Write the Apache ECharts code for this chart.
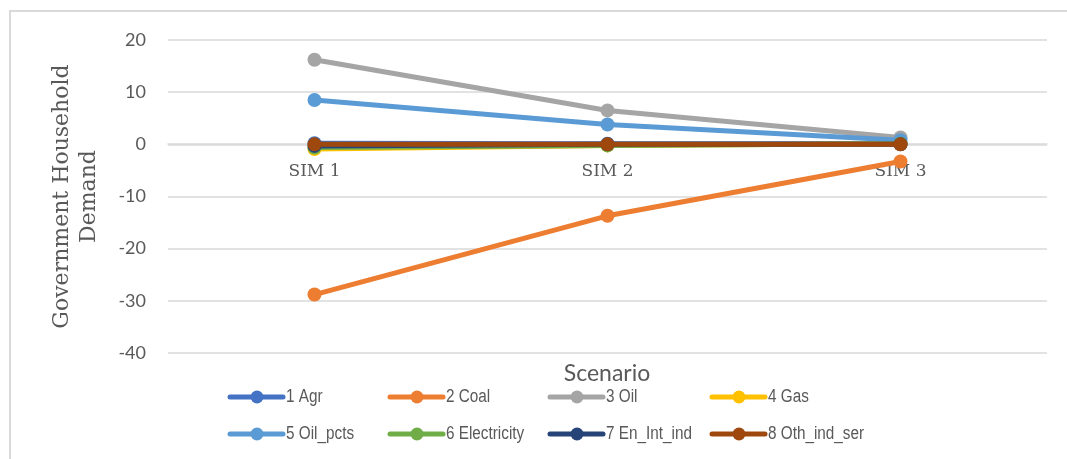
<!DOCTYPE html>
<html>
<head>
<meta charset="utf-8">
<script src="https://cdn.jsdelivr.net/npm/echarts@6/dist/echarts.min.js"></script>
<style>
  html, body { margin: 0; padding: 0; background: #fff; }
  #chart { width: 1067px; height: 459px; }
</style>
</head>
<body>
<div id="chart"></div>
<script>
// Scenarios on the x axis
const scenarios = ['SIM 1', 'SIM 2', 'SIM 3'];

// Change in government household demand per sector
const agr         = [0.2, 0.1, 0.1];
const coal        = [-28.8, -13.7, -3.3];
const oil         = [16.2, 6.5, 1.3];
const gas         = [-0.9, -0.2, 0.1];
const oilPcts     = [8.5, 3.8, 0.8];
const electricity = [-0.6, -0.2, 0.1];
const enIntInd    = [-0.3, 0.0, 0.0];
const othIndSer   = [0.0, 0.0, 0.0];

const sectorNames = ['1 Agr', '2 Coal', '3 Oil', '4 Gas', '5 Oil_pcts', '6 Electricity', '7 En_Int_ind', '8 Oth_ind_ser'];
const sectorData  = [agr, coal, oil, gas, oilPcts, electricity, enIntInd, othIndSer];
const sectorColors = ['#4472C4', '#ED7D31', '#A5A5A5', '#FFC000', '#5B9BD5', '#70AD47', '#264478', '#9E480E'];

// y-axis ticks
const yMin = -40, yMax = 20, yStep = 10;

const chart = echarts.init(document.getElementById('chart'), null, { renderer: 'canvas' });

const series = sectorNames.map((name, i) => ({
  name: name,
  type: 'line',
  data: sectorData[i],
  symbol: 'circle',
  symbolSize: 14,
  lineStyle: { width: 5, color: sectorColors[i] },
  itemStyle: { color: sectorColors[i] },
  z: 2 + i
}));

// legend: two rows of four, each a thick line with a dot and the sector name
const legendCols = [228, 388, 548, 710];
const legendRows = [397, 434];
const legendGraphics = [];
sectorNames.forEach((name, i) => {
  const x = legendCols[i % 4];
  const y = legendRows[Math.floor(i / 4)];
  legendGraphics.push({
    type: 'group',
    x: x, y: y,
    children: [
      { type: 'line', shape: { x1: 2, y1: 0, x2: 55, y2: 0 }, style: { stroke: sectorColors[i], lineWidth: 5, lineCap: 'round' } },
      { type: 'circle', shape: { cx: 29, cy: 0, r: 6.5 }, style: { fill: sectorColors[i] } },
      { type: 'text', x: 58, y: 0, scaleX: 0.85, style: {
          text: name,
          fill: '#595959',
          font: '18px "Liberation Sans", Arial, sans-serif',
          verticalAlign: 'middle',
          align: 'left'
        } }
    ]
  });
});

chart.setOption({
  backgroundColor: '#fff',
  animation: false,
  grid: { left: 168, right: 20, top: 40, bottom: 106, containLabel: false },
  xAxis: {
    type: 'category',
    data: scenarios,
    boundaryGap: true,
    // category labels sit just under the zero line
    offset: -209,
    axisLine: { show: true, onZero: false, lineStyle: { color: '#D9D9D9', width: 1.5 } },
    axisTick: { show: false },
    axisLabel: {
      color: '#595959',
      fontFamily: '"DejaVu Serif", "Liberation Serif", serif',
      fontSize: 17,
      margin: 19
    }
  },
  yAxis: {
    type: 'value',
    min: yMin,
    max: yMax,
    interval: yStep,
    name: 'Government Household\nDemand',
    nameLocation: 'middle',
    nameRotate: 90,
    nameGap: 65,
    nameTextStyle: {
      color: '#595959',
      fontFamily: '"DejaVu Serif", "Liberation Serif", serif',
      fontSize: 22,
      lineHeight: 27
    },
    axisLine: { show: false },
    axisTick: { show: false },
    axisLabel: {
      color: '#595959',
      fontFamily: 'Lato, "Open Sans", sans-serif',
      fontSize: 18,
      margin: 22
    },
    splitLine: { lineStyle: { color: '#D9D9D9', width: 1.5 } }
  },
  graphic: [
    {
      type: 'rect',
      x: 10, y: 11,
      shape: { width: 1100, height: 500 },
      style: { fill: 'none', stroke: '#D9D9D9', lineWidth: 2 },
      silent: true
    },
    {
      type: 'text',
      x: 607, y: 374,
      style: {
        text: 'Scenario',
        fill: '#595959',
        font: '23px Lato, "Open Sans", sans-serif',
        align: 'center',
        verticalAlign: 'middle'
      }
    }
  ].concat(legendGraphics),
  series: series
});
</script>
</body>
</html>
